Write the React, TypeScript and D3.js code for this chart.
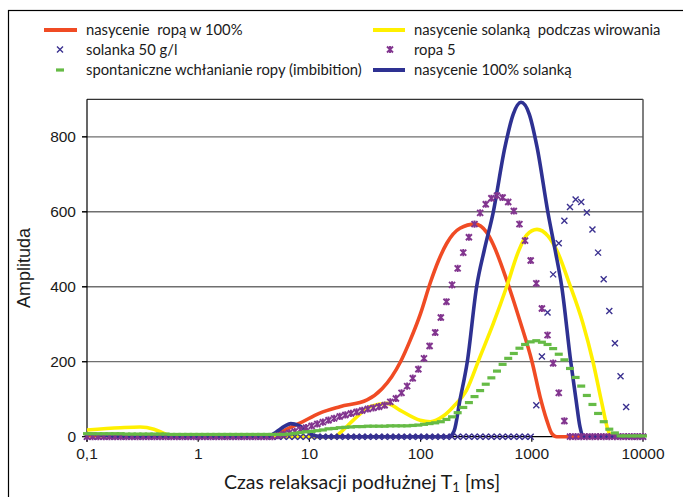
import React from 'react';
import * as d3 from 'd3';

// ---------- data ----------
const X_TICKS = [0.1, 1, 10, 100, 1000, 10000];
const X_TICK_LABELS = ['0,1', '1', '10', '100', '1000', '10000'];
const Y_TICKS = [0, 200, 400, 600, 800];

// measurement grid (log-spaced relaxation times, 100 points 0.1..10000 ms)
const T_GRID = d3.range(100).map((i) => Math.pow(10, -1 + (5 * i) / 99));

// line series: [T1 ms, amplitude]
const RED: [number, number][] = [
  [0.1, 3], [0.3, 1], [1, 0], [4.5, 0], [5.4, 10], [6.5, 22], [8.2, 36], [12.4, 63], [18.8, 80],
  [33, 98], [45, 128], [55, 160], [66, 200], [80, 255], [100, 329], [122, 410], [145, 470],
  [172, 516], [226, 556], [308, 567], [393, 545], [451, 512], [594, 418], [780, 310], [1005, 200],
  [1186, 107], [1360, 45], [1510, 9], [1675, 0], [10000, 0],
];
const YELLOW: [number, number][] = [
  [0.1, 18], [0.2, 24], [0.3, 26], [0.4, 20], [0.5, 8], [0.6, 0], [17, 0], [18.8, 10], [25, 45],
  [35, 80], [50, 89], [65, 71], [99, 44], [122, 40], [160, 55], [197, 80], [259, 124], [342, 213],
  [451, 302], [594, 400], [760, 495], [900, 538], [1114, 553], [1400, 535], [1720, 490],
  [2120, 418], [2885, 302], [3550, 200], [4270, 89], [4840, 18], [5200, 0], [10000, 0],
];
const BLUE: [number, number][] = [
  [0.1, 8], [0.15, 3], [0.2, 0], [4.2, 0], [5, 12], [6, 28], [6.8, 35], [8, 30], [9.5, 15],
  [11, 3], [13, 0], [180, 0], [200, 15], [226, 98], [263, 200], [319, 400], [374, 498],
  [448, 596], [574, 773], [680, 860], [800, 892], [950, 860], [1114, 773], [1400, 596],
  [1620, 498], [1860, 400], [2240, 200], [2500, 98], [2710, 27], [2880, 2], [3000, 0], [10000, 0],
];

// marker series on T_GRID
const SOLANKA = [
  0, 0, 0, 0, 0, 0, 0, 0, 0, 0,
  0, 0, 0, 0, 0, 0, 0, 0, 0, 0,
  0, 0, 0, 0, 0, 0, 0, 0, 0, 0,
  0, 0, 0, 0, 0, 0, 0, 0, 0, 0,
  0, 0, 0, 0, 0, 0, 0, 0, 0, 0,
  0, 0, 0, 0, 0, 0, 0, 0, 0, 0,
  0, 0, 0, 0, 0, 0, 0, 0, 0, 0,
  0, 0, 0, 0, 0, 0, 0, 0, 0, 0,
  84, 214, 331, 433, 516, 576, 613, 633, 626, 598,
  553, 491, 420, 335, 249, 161, 79, 0, 0, 0,
];
const ROPA5 = [
  0, 0, 0, 0, 0, 0, 0, 0, 0, 0,
  0, 0, 0, 0, 0, 0, 0, 0, 0, 0,
  0, 0, 0, 0, 0, 0, 0, 0, 0, 0,
  0, 0, 0, 0, 3, 6, 10, 14, 19, 24,
  29, 34, 39, 44, 49, 54, 58, 62, 66, 70,
  74, 77, 80, 84, 93, 102, 117, 135, 156, 180,
  209, 242, 278, 318, 360, 405, 449, 491, 532, 567,
  597, 620, 636, 643, 638, 626, 602, 567, 523, 470,
  409, 342, 271, 196, 117, 42, 0, 0, 0, 0,
  0, 0, 0, 0, 0, 0, 0, 0, 0, 0,
];
const IMBIBITION = [
  8, 8, 8, 8, 8, 8, 8, 7, 7, 7,
  7, 7, 7, 7, 7, 6, 6, 6, 6, 6,
  6, 6, 6, 6, 6, 6, 6, 6, 6, 6,
  6, 6, 6, 6, 6, 6, 7, 9, 11, 13,
  14, 16, 18, 21, 22, 24, 25, 26, 27, 27,
  28, 28, 28, 28, 29, 29, 29, 29, 30, 31,
  33, 35, 37, 40, 46, 53, 64, 78, 91, 107,
  123, 140, 157, 175, 193, 209, 222, 236, 246, 253,
  256, 252, 246, 235, 220, 205, 182, 158, 135, 110,
  86, 62, 40, 20, 10, 2, 2, 2, 2, 2,
];

const LEGEND_LABELS = [
  'nasycenie  ropą w 100%',
  'nasycenie solanką  podczas wirowania',
  'solanka 50 g/l',
  'ropa 5',
  'spontaniczne wchłanianie ropy (imbibition)',
  'nasycenie 100% solanką',
];

// ---------- styles ----------
const C_RED = '#f04b24';
const C_YELLOW = '#fff000';
const C_BLUE = '#2e3192';
const C_SOL = '#3b3190';
const C_PURPLE = '#82358f';
const C_GREEN = '#66bb46';

const W = 683;
const H = 497;

const x = d3.scaleLog().domain([0.1, 10000]).range([87, 643]);
const y = d3.scaleLinear().domain([0, 900]).range([436.7, 99.3]);

const line = d3
  .line<[number, number]>()
  .x((d) => x(d[0]))
  .y((d) => y(d[1]))
  .curve(d3.curveMonotoneX);

const XMARK = 'M-3,-3L3,3M3,-3L-3,3';
const STAR = 'M-3,-3L3,3M3,-3L-3,3M0,-3.6L0,3.6';

function SolMarker({ cx, cy }: { cx: number; cy: number }) {
  return <path d={XMARK} transform={`translate(${cx},${cy})`} stroke={C_SOL} strokeWidth={1.4} fill="none" />;
}
function StarMarker({ cx, cy }: { cx: number; cy: number }) {
  return <path d={STAR} transform={`translate(${cx},${cy})`} stroke={C_PURPLE} strokeWidth={1.9} fill="none" />;
}
function DashMarker({ cx, cy }: { cx: number; cy: number }) {
  return <rect x={cx - 4} y={cy - 1.6} width={8} height={3.2} fill={C_GREEN} />;
}

export default function App() {
  const sansText = 'Lato, "Open Sans", sans-serif';
  const numFont = '"Liberation Sans", Arial, sans-serif';
  const plotL = x.range()[0];
  const plotR = x.range()[1];
  const plotT = y.range()[1];
  const plotB = y.range()[0];

  const legendRows = [30, 49.5, 70];
  const col1 = { s0: 44, s1: 77, tx: 86, mx: 60 };
  const col2 = { s0: 373, s1: 405, tx: 414, mx: 390 };

  const LegendText = ({ xx, yy, s }: { xx: number; yy: number; s: string }) => (
    <text x={xx} y={yy} xmlSpace="preserve" style={{ whiteSpace: 'pre' }}>
      {s}
    </text>
  );

  return (
    <svg width={W} height={H} style={{ position: 'absolute', left: 0, top: 0, background: '#fff' }}>
      {/* outer frame */}
      <rect x={8.5} y={10.5} width={700} height={520} fill="none" stroke="#000" strokeWidth={1.2} />

      {/* gridlines */}
      {Y_TICKS.filter((t) => t > 0).map((t) => (
        <line key={t} x1={plotL - 5} x2={plotR} y1={y(t)} y2={y(t)} stroke="#6f6f6f" strokeWidth={1.3} />
      ))}
      {/* plot border */}
      <line x1={plotL} x2={plotR} y1={plotT} y2={plotT} stroke="#333" strokeWidth={1.2} />
      <line x1={plotR} x2={plotR} y1={plotT} y2={plotB} stroke="#555" strokeWidth={1.5} />

      {/* y axis */}
      <line x1={plotL} x2={plotL} y1={plotT} y2={plotB + 5} stroke="#000" strokeWidth={1.2} />
      {Y_TICKS.map((t) => (
        <g key={t}>
          <line x1={plotL - 5} x2={plotL} y1={y(t)} y2={y(t)} stroke="#000" strokeWidth={1.2} />
          <text x={76} y={y(t) + 5.5} textAnchor="end" fontFamily={numFont} fontSize={15.5} fill="#1a1a1a">
            {t}
          </text>
        </g>
      ))}
      {/* x axis */}
      <line x1={plotL} x2={plotR} y1={plotB} y2={plotB} stroke="#000" strokeWidth={1.2} />
      {X_TICKS.map((t, i) => (
        <g key={t}>
          <line x1={x(t)} x2={x(t)} y1={plotB} y2={plotB + 5} stroke="#000" strokeWidth={1.2} />
          <text x={x(t)} y={459} textAnchor="middle" fontFamily={numFont} fontSize={15.5} fill="#1a1a1a">
            {X_TICK_LABELS[i]}
          </text>
        </g>
      ))}

      {/* series */}
      <path d={line(RED) || ''} fill="none" stroke={C_RED} strokeWidth={3.6} strokeLinejoin="round" />
      <path d={line(YELLOW) || ''} fill="none" stroke={C_YELLOW} strokeWidth={3.6} strokeLinejoin="round" />
      <path d={line(BLUE) || ''} fill="none" stroke={C_BLUE} strokeWidth={3.6} strokeLinejoin="round" />
      {T_GRID.map((t, i) => (
        <SolMarker key={'s' + i} cx={x(t)} cy={y(SOLANKA[i])} />
      ))}
      {T_GRID.map((t, i) => (
        <StarMarker key={'p' + i} cx={x(t)} cy={y(ROPA5[i])} />
      ))}
      {T_GRID.map((t, i) => (
        <DashMarker key={'g' + i} cx={x(t)} cy={y(IMBIBITION[i])} />
      ))}

      {/* axis titles */}
      <text
        transform={`translate(30,${(plotT + plotB) / 2}) rotate(-90)`}
        textAnchor="middle"
        fontFamily={numFont}
        fontSize={18}
        fill="#1a1a1a"
      >
        Amplituda
      </text>
      <text x={362} y={489} textAnchor="middle" fontFamily={sansText} fontSize={19.5} fill="#1a1a1a">
        Czas relaksacji podłużnej T
        <tspan fontSize={13} dy={3}>1</tspan>
        <tspan dy={-3}> [ms]</tspan>
      </text>

      {/* legend */}
      <g fontFamily={sansText} fontSize={14.8} fill="#1a1a1a">
        <line x1={col1.s0} x2={col1.s1} y1={legendRows[0]} y2={legendRows[0]} stroke={C_RED} strokeWidth={4} />
        <LegendText xx={col1.tx} yy={legendRows[0] + 5} s={LEGEND_LABELS[0]} />
        <line x1={col2.s0} x2={col2.s1} y1={legendRows[0]} y2={legendRows[0]} stroke={C_YELLOW} strokeWidth={4} />
        <LegendText xx={col2.tx} yy={legendRows[0] + 5} s={LEGEND_LABELS[1]} />

        <SolMarker cx={col1.mx} cy={legendRows[1]} />
        <LegendText xx={col1.tx} yy={legendRows[1] + 5} s={LEGEND_LABELS[2]} />
        <StarMarker cx={col2.mx} cy={legendRows[1]} />
        <LegendText xx={col2.tx} yy={legendRows[1] + 5} s={LEGEND_LABELS[3]} />

        <DashMarker cx={col1.mx} cy={legendRows[2]} />
        <LegendText xx={col1.tx} yy={legendRows[2] + 5} s={LEGEND_LABELS[4]} />
        <line x1={col2.s0} x2={col2.s1} y1={legendRows[2]} y2={legendRows[2]} stroke={C_BLUE} strokeWidth={4} />
        <LegendText xx={col2.tx} yy={legendRows[2] + 5} s={LEGEND_LABELS[5]} />
      </g>
    </svg>
  );
}
